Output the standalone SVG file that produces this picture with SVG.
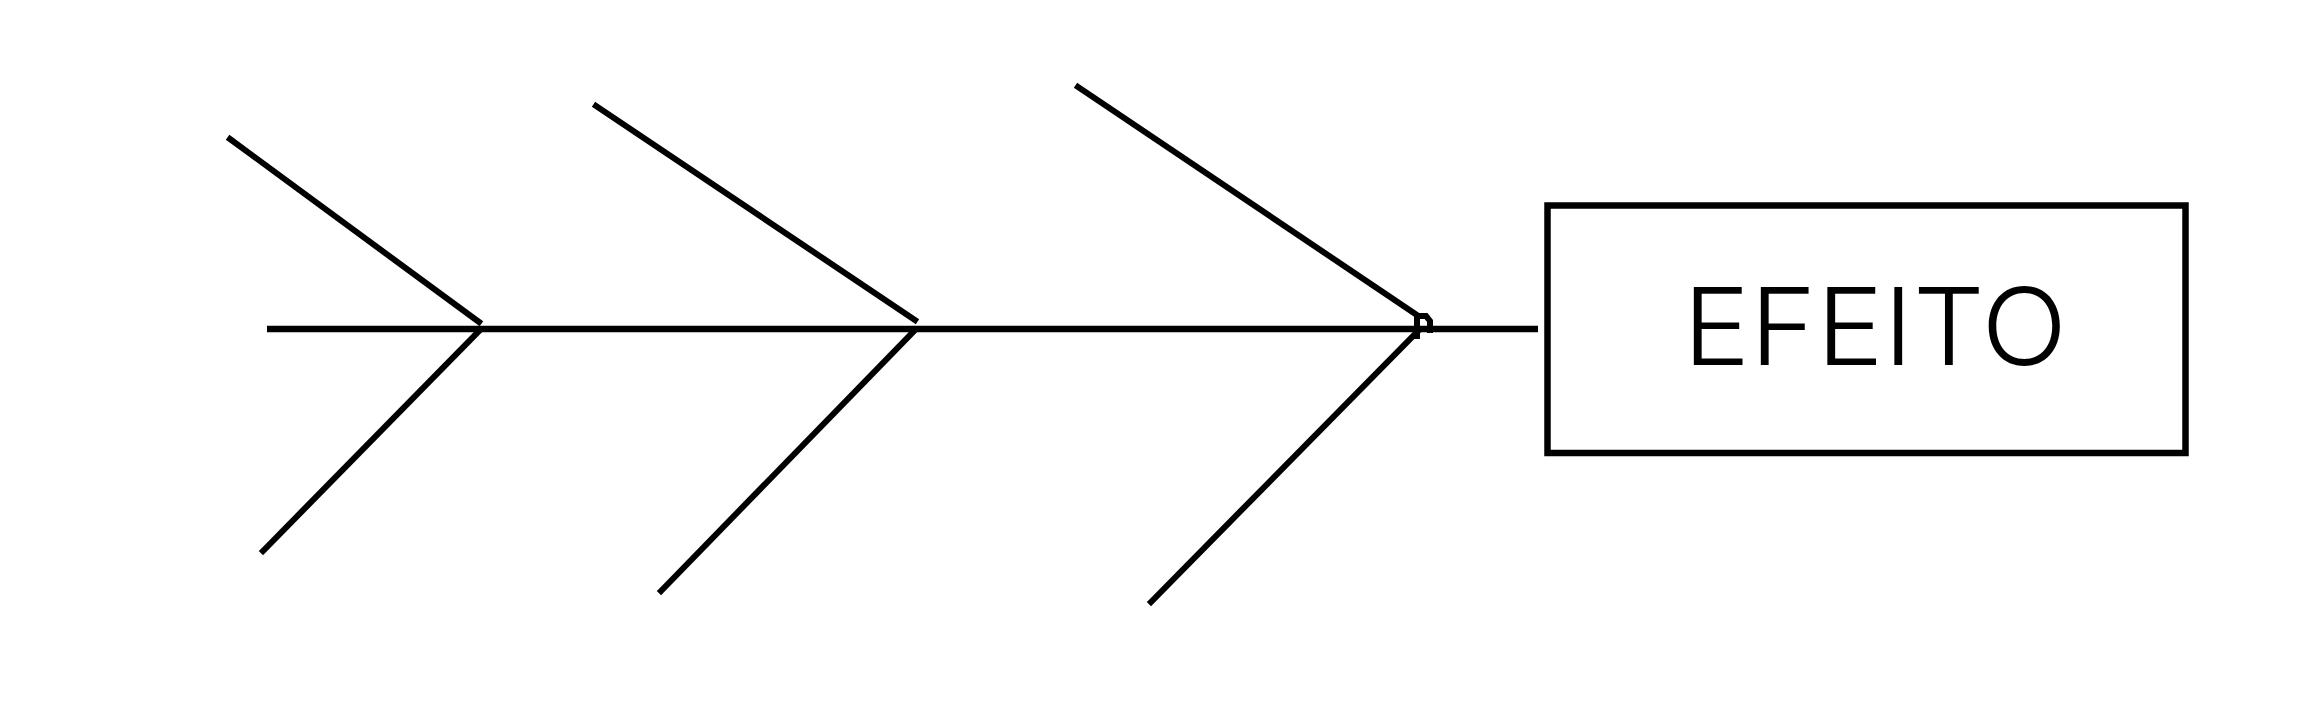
<svg xmlns="http://www.w3.org/2000/svg" width="2300" height="704" viewBox="0 0 2300 704">
<style>
.bone{stroke:#000;stroke-width:6;fill:none;stroke-linecap:square}
.spine{stroke:#000;stroke-width:6.5;fill:none}
.box{stroke:#000;stroke-width:6.5;fill:#fff}
.lbl{font-family:Inter,"Liberation Sans",Arial,sans-serif;font-weight:300;font-size:107px;fill:#000}
</style>
<rect width="2300" height="704" fill="#fff"/>
<g id="connectors">
<line class="spine" x1="267" y1="329" x2="1538" y2="329"/>
<line class="bone" x1="230" y1="139" x2="479" y2="322"/>
<line class="bone" x1="263" y1="551" x2="480" y2="330"/>
<line class="bone" x1="596" y1="106" x2="915" y2="320"/>
<line class="bone" x1="661" y1="591" x2="915" y2="330"/>
<line class="bone" x1="1078" y1="87" x2="1417" y2="315"/>
<line class="bone" x1="1151" y1="602" x2="1417" y2="332"/>
<polyline class="bone" stroke-linecap="butt" points="1417,336 1417,316 1426,316 1430,321 1430,330"/>
</g>
<g id="efeito">
<rect class="box" x="1547.5" y="205.5" width="638" height="247.5"/>
<text class="lbl" x="1683" y="365" textLength="384" lengthAdjust="spacingAndGlyphs">EFEITO</text>
</g>
</svg>
